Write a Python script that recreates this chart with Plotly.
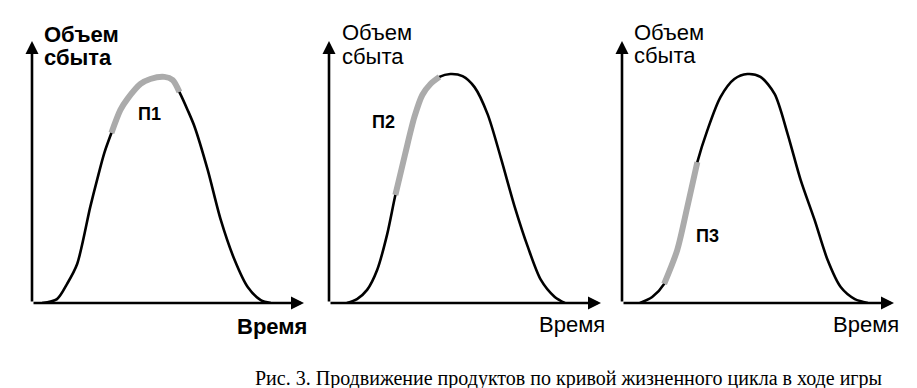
import plotly.graph_objects as go

# ---- data (time in % of axis length, sales volume in % of axis height) ----
p1_time = [3.7, 9.2, 12.9, 16.6, 21.4, 24.0, 26.6, 29.2, 32.5, 35.1, 39.9, 43.5, 48.7, 51.7, 54.2, 57.2, 59.8, 64.6, 69.4, 74.5, 79.3, 84.1, 87.8]
p1_sales = [0, 1.5, 7.3, 14.9, 36.6, 47.3, 57.3, 64.9, 73.7, 77.9, 83.6, 85.5, 86.3, 85.1, 80.5, 73.7, 67.2, 50.8, 31.7, 16.4, 6.1, 1.1, 0]

p2_time = [6.6, 10.3, 14.0, 17.7, 21.4, 24.4, 28.0, 31.4, 34.3, 37.3, 40.6, 44.6, 49.1, 53.5, 58.3, 63.1, 68.3, 73.1, 77.9, 83.0, 86.7]
p2_sales = [0, 1.5, 5.0, 12.6, 26.3, 41.2, 56.9, 71.0, 79.4, 83.6, 86.3, 87.4, 86.6, 82.4, 72.1, 55.7, 36.6, 21.4, 8.8, 2.3, 0]

p3_time = [6.6, 11.1, 15.5, 20.3, 24.0, 27.7, 31.4, 36.2, 41.3, 46.1, 50.9, 56.1, 60.9, 65.7, 70.8, 75.6, 80.4, 85.6, 90.4]
p3_sales = [0, 2.3, 7.3, 20.2, 36.6, 53.8, 66.0, 78.6, 85.5, 87.4, 86.3, 79.8, 64.5, 46.9, 31.7, 16.4, 6.1, 1.5, 0]

# highlighted (product position) segment: start/end index into each curve
highlights = [(7, 14), (5, 10), (2, 5)]
product_labels = ["П1", "П2", "П3"]
product_label_pos = [(43.2, 72.1), (19.9, 69.1), (31.4, 25.6)]

y_title = ["Объем", "сбыта"]
x_title = "Время"
caption = "Рис. 3. Продвижение продуктов по кривой жизненного цикла в ходе игры"

W, H = 917, 388
panels_px = [(24, 296), (321, 593), (614, 886)]
y_px = (295, 33)

curves = [(p1_time, p1_sales), (p2_time, p2_sales), (p3_time, p3_sales)]

fig = go.Figure()
sans = "Liberation Sans"

for i, ((t, v), (a, b)) in enumerate(zip(curves, highlights)):
    xa = "x" if i == 0 else f"x{i+1}"
    ya = "y" if i == 0 else f"y{i+1}"
    fig.add_trace(go.Scatter(x=t, y=v, mode="lines", xaxis=xa, yaxis=ya,
                             line=dict(color="black", width=2.6, shape="spline", smoothing=0.8),
                             hoverinfo="skip", showlegend=False))
    fig.add_trace(go.Scatter(x=t[a:b + 1], y=v[a:b + 1], mode="lines", xaxis=xa, yaxis=ya,
                             line=dict(color="#ababab", width=6, shape="spline", smoothing=0.8),
                             hoverinfo="skip", showlegend=False))

layout = dict(width=W, height=H, margin=dict(l=0, r=0, t=0, b=0),
              paper_bgcolor="white", plot_bgcolor="white", showlegend=False)
ydom = [1 - y_px[0] / H, 1 - y_px[1] / H]
for i, (x0, x1) in enumerate(panels_px):
    sx = "" if i == 0 else str(i + 1)
    layout[f"xaxis{sx}"] = dict(domain=[x0 / W, x1 / W], range=[0, 100], visible=False, fixedrange=True,
                                anchor=f"y{sx}")
    layout[f"yaxis{sx}"] = dict(domain=ydom, range=[0, 100], visible=False, fixedrange=True,
                                anchor=f"x{sx}")
fig.update_layout(**layout)

ann = []
label_px = [  # (left x of y-title, centre y of line1, line2), (right x of x-title, centre y)
    ((34, 27, 50), (301, 318)),
    ((332, 25, 48), (599, 316)),
    ((624, 24, 47), (893, 316)),
]
for i in range(3):
    xr = "x" if i == 0 else f"x{i+1}"
    yr = "y" if i == 0 else f"y{i+1}"
    # axes with arrows
    ann.append(dict(xref=xr, yref=yr, axref=xr, ayref=yr, x=0, y=100, ax=0, ay=0, text="",
                    showarrow=True, arrowhead=2, arrowsize=1.0, arrowwidth=2.6, arrowcolor="black", standoff=0))
    ann.append(dict(xref=xr, yref=yr, axref=xr, ayref=yr, x=100, y=0, ax=0, ay=0, text="",
                    showarrow=True, arrowhead=2, arrowsize=1.0, arrowwidth=2.6, arrowcolor="black", standoff=0))
    bold = i == 0
    (lx, c1, c2), (rx, cy) = label_px[i]
    for word, cyy in zip(y_title, (c1, c2)):
        txt = f"<b>{word}</b>" if bold else word
        ann.append(dict(xref="paper", yref="paper", x=lx / W, y=1 - cyy / H, xanchor="left", yanchor="middle",
                        text=txt, showarrow=False, font=dict(family=sans, size=22, color="black")))
    ann.append(dict(xref="paper", yref="paper", x=rx / W, y=1 - cy / H, xanchor="right", yanchor="middle",
                    text=f"<b>{x_title}</b>" if bold else x_title, showarrow=False,
                    font=dict(family=sans, size=22, color="black")))
    px_, py_ = product_label_pos[i]
    ann.append(dict(xref=xr, yref=yr, x=px_, y=py_, text=f"<b>{product_labels[i]}</b>", showarrow=False,
                    font=dict(family=sans, size=18, color="black")))

ann.append(dict(xref="paper", yref="paper", x=560 / W, y=1 - 370 / H, xanchor="center", yanchor="middle",
                text=caption, showarrow=False, font=dict(family="Liberation Serif", size=20, color="black")))
fig.update_layout(annotations=ann)

fig.write_html("out.html", config={"displayModeBar": False})
